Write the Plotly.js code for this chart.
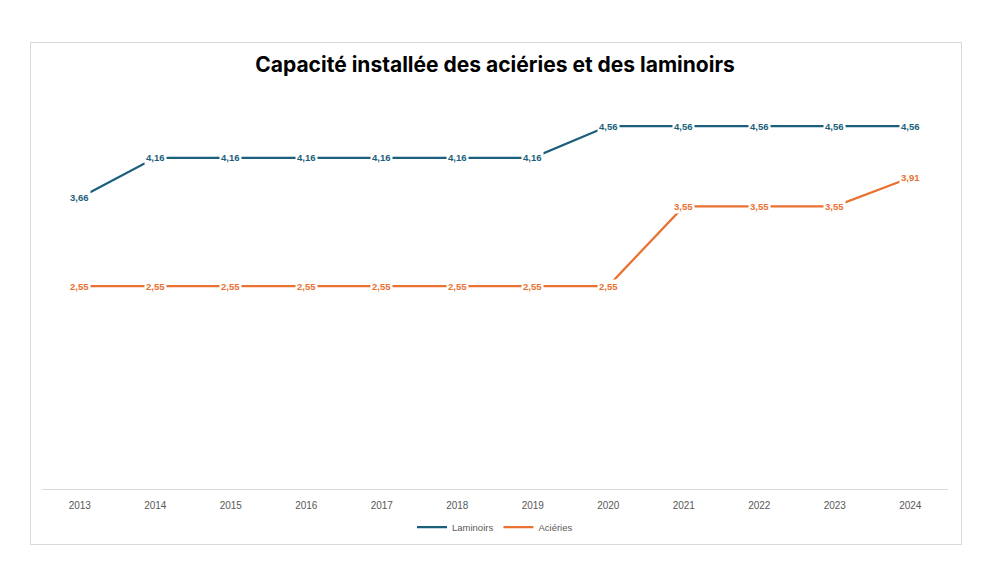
<!DOCTYPE html>
<html>
<head>
<meta charset="utf-8">
<script src="https://cdn.plot.ly/plotly-3.0.1.min.js"></script>
<style>
html,body{margin:0;padding:0;background:#fff;}
#wrap{position:relative;width:992px;height:576px;}
#chart{position:absolute;left:0;top:0;width:992px;height:576px;}
#frame{position:absolute;left:30px;top:42px;width:930px;height:501px;border:1px solid #d9d9d9;pointer-events:none;}
</style>
</head>
<body>
<div id="wrap"><div id="chart"></div><div id="frame"></div></div>
<script>
const years = ['2013','2014','2015','2016','2017','2018','2019','2020','2021','2022','2023','2024'];
const laminoirs = [3.66,4.16,4.16,4.16,4.16,4.16,4.16,4.56,4.56,4.56,4.56,4.56];
const acieries = [2.55,2.55,2.55,2.55,2.55,2.55,2.55,2.55,3.55,3.55,3.55,3.91];
const blue = '#1b5f7c';
const orange = '#e97132';
const fmt = v => v.toFixed(2).replace('.', ',');

const traces = [
  {x: years, y: laminoirs, name: 'Laminoirs', type: 'scatter', mode: 'lines',
   line: {color: blue, width: 2.25}},
  {x: years, y: acieries, name: 'Aciéries', type: 'scatter', mode: 'lines',
   line: {color: orange, width: 2.25}}
];

const annotations = [];
[[laminoirs, blue], [acieries, orange]].forEach(([arr, col]) => {
  arr.forEach((v, i) => {
    annotations.push({x: i, y: v, xref: 'x', yref: 'y', text: '<b>' + fmt(v) + '</b>',
      showarrow: false, bgcolor: '#ffffff', borderpad: 1,
      font: {family: 'Liberation Sans', size: 9.5, color: col}});
  });
});

const layout = {
  width: 992, height: 576,
  margin: {l: 42, r: 44, t: 91, b: 87},
  paper_bgcolor: '#ffffff', plot_bgcolor: '#ffffff',
  title: {text: '<b>Capacité installée des aciéries et des laminoirs</b>',
    font: {family: 'Inter', size: 21, color: '#000000'},
    x: 0.5, xanchor: 'center', xref: 'paper', y: 1 - 65/576, yanchor: 'middle', yref: 'container'},
  xaxis: {type: 'category', showgrid: false, zeroline: false, showline: true,
    linecolor: '#d9d9d9', linewidth: 1, ticks: '', range: [-0.5, 11.5], ticklabelstandoff: 7,
    tickfont: {family: 'Liberation Sans', size: 10, color: '#595959'}},
  yaxis: {range: [0, 5], showticklabels: false, showline: false, ticks: '', showgrid: false, zeroline: false},
  showlegend: true,
  legend: {orientation: 'h', x: 0.5, xanchor: 'center', y: -(527-489)/398, yanchor: 'middle',
    font: {family: 'Liberation Sans', size: 9.5, color: '#595959'}},
  annotations: annotations
};

Plotly.newPlot('chart', traces, layout, {displayModeBar: false, staticPlot: true});
</script>
</body>
</html>
